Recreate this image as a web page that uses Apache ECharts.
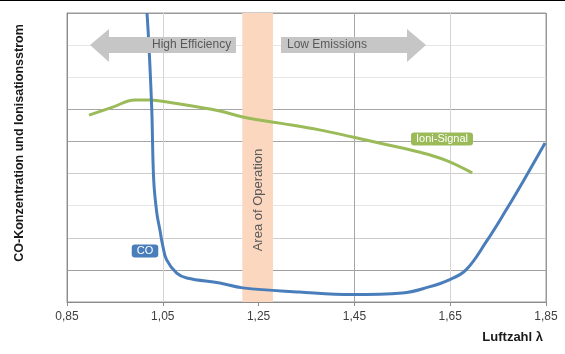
<!DOCTYPE html>
<html>
<head>
<meta charset="utf-8">
<script src="https://cdn.jsdelivr.net/npm/echarts@6/dist/echarts.min.js"></script>
<style>
  html, body { margin: 0; padding: 0; background: #fff; }
  #chart { width: 565px; height: 354px; }
</style>
</head>
<body>
<div id="chart"></div>
<script>
// Luftzahl lambda and values (relative units 0..90)
var xLabels = ['0,85', '1,05', '1,25', '1,45', '1,65', '1,85'];
var lambdaMin = 0.85;

var coLambda = [1.017, 1.021, 1.027, 1.031, 1.0375, 1.044, 1.05, 1.058, 1.079, 1.10, 1.169, 1.217, 1.335, 1.446, 1.55, 1.606, 1.648, 1.683, 1.725, 1.767, 1.804, 1.848];
var coValue  = [90, 80, 59.8, 38, 27.7, 22.4, 17.5, 13.1, 9.0, 7.5, 5.9, 4.4, 3.1, 2.3, 2.8, 4.7, 6.9, 10, 18.7, 28.7, 38, 49.5];

var ioniLambda = [0.896, 0.944, 0.992, 1.023, 1.065, 1.169, 1.217, 1.294, 1.377, 1.446, 1.502, 1.585, 1.64, 1.696];
var ioniValue  = [58.2, 60.6, 62.9, 62.9, 62.1, 59.5, 57.6, 55.7, 53.6, 51.4, 49.5, 46.7, 44.2, 40.2];

var bandRange = [1.216, 1.28];

function pairs(xs, ys) {
    var out = [];
    for (var i = 0; i < xs.length; i++) {
        out.push([xs[i] - lambdaMin, ys[i]]);
    }
    return out;
}

var myChart = echarts.init(document.getElementById('chart'));
var font = 'Liberation Sans, Arial, sans-serif';
var option = {
    animation: false,
    grid: { left: 67, right: 19, top: 13, bottom: 52, show: true, borderColor: '#9a9a9a', borderWidth: 1 },
    xAxis: {
        type: 'value',
        min: 0,
        max: 1,
        interval: 0.2,
        axisLine: { lineStyle: { color: '#8c8c8c', width: 1 } },
        axisTick: { show: true, length: 4, lineStyle: { color: '#8c8c8c' } },
        axisLabel: {
            color: '#404040', fontSize: 12, fontFamily: font, margin: 9,
            formatter: function (v) { return xLabels[Math.round(v / 0.2)]; }
        },
        splitLine: { lineStyle: { color: ['#8c8c8c', '#d4d4d4', '#d4d4d4', '#a6a6a6', '#d4d4d4', '#9a9a9a'] } }
    },
    yAxis: {
        type: 'value',
        min: 0,
        max: 90,
        interval: 10,
        axisLabel: { show: false },
        axisTick: { show: false },
        axisLine: { show: true, lineStyle: { color: '#8c8c8c', width: 1 } },
        splitLine: { lineStyle: { color: ['#8c8c8c', '#a0a0a0', '#cccccc', '#e6e6e6', '#cccccc', '#a6a6a6', '#a6a6a6', '#e6e6e6', '#e6e6e6', '#9a9a9a'] } }
    },
    series: [
        {
            type: 'line',
            data: [],
            z: 1,
            markArea: {
                silent: true,
                itemStyle: { color: '#fcd7bf' },
                data: [[{ xAxis: bandRange[0] - lambdaMin, yAxis: 0 }, { xAxis: bandRange[1] - lambdaMin, yAxis: 90 }]]
            }
        },
        {
            name: 'Ioni-Signal',
            type: 'line',
            smooth: 0.4,
            symbol: 'none',
            z: 3,
            lineStyle: { color: '#9bbb59', width: 3 },
            data: pairs(ioniLambda, ioniValue)
        },
        {
            name: 'CO',
            type: 'line',
            smooth: 0.4,
            symbol: 'none',
            z: 4,
            lineStyle: { color: '#4a7ebb', width: 3 },
            data: pairs(coLambda, coValue)
        }
    ],
    graphic: [
        { type: 'rect', shape: { x: 0, y: 0, width: 565, height: 1 }, style: { fill: '#000' } },
        {
            type: 'polygon',
            shape: { points: [[90, 45], [109, 29], [109, 37], [236, 37], [236, 53], [109, 53], [109, 62]] },
            style: { fill: '#c6c6c6' }, z: 10
        },
        {
            type: 'polygon',
            shape: { points: [[281, 37], [407, 37], [407, 29], [426, 45], [407, 62], [407, 53], [281, 53]] },
            style: { fill: '#c6c6c6' }, z: 10
        },
        { type: 'text', x: 152, y: 45, z: 11, style: { text: 'High Efficiency', fill: '#595959', font: '12px ' + font, verticalAlign: 'middle' } },
        { type: 'text', x: 287, y: 45, z: 11, style: { text: 'Low Emissions', fill: '#595959', font: '12px ' + font, verticalAlign: 'middle' } },
        {
            type: 'text', x: 258, y: 200, z: 11, rotation: Math.PI / 2,
            style: { text: 'Area of Operation', fill: '#595959', font: '13px ' + font, align: 'center', verticalAlign: 'middle' }
        },
        {
            type: 'text', x: 145, y: 251, z: 11,
            style: {
                text: 'CO', fill: '#fff', font: '11px ' + font, align: 'center', verticalAlign: 'middle',
                backgroundColor: '#4a7ebb', borderRadius: 3, padding: [1, 5, 1, 5]
            }
        },
        {
            type: 'text', x: 442, y: 139, z: 11,
            style: {
                text: 'Ioni-Signal', fill: '#fff', font: '11px ' + font, align: 'center', verticalAlign: 'middle',
                backgroundColor: '#9bbb59', borderRadius: 3, padding: [1, 5, 1, 5]
            }
        },
        {
            type: 'text', x: 20, y: 143, rotation: Math.PI / 2,
            style: { text: 'CO-Konzentration und Ionisationsstrom', fill: '#1a1a1a', font: 'bold 12.5px ' + font, align: 'center', verticalAlign: 'middle' }
        },
        {
            type: 'text', x: 543, y: 337,
            style: { text: 'Luftzahl λ', fill: '#1a1a1a', font: 'bold 13px ' + font, align: 'right', verticalAlign: 'middle' }
        }
    ]
};
myChart.setOption(option);
</script>
</body>
</html>
